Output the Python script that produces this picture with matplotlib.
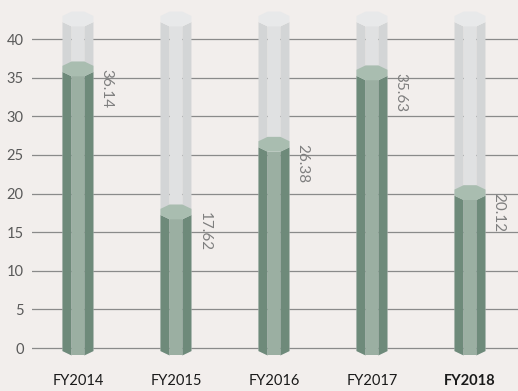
import numpy as np
import matplotlib.pyplot as plt
from matplotlib.patches import Polygon

years = ['FY2014', 'FY2015', 'FY2016', 'FY2017', 'FY2018']
values = [36.14, 17.62, 26.38, 35.63, 20.12]
full = 42.6  # height of the grey sleeve behind each column

bg = '#f2eeec'
grey_side, grey_mid, grey_cap = '#d3d5d6', '#e0e1e2', '#e8e9ea'
green_side, green_mid, green_cap = '#6e8a7a', '#9bafa2', '#a9bdb0'

w = 0.171   # radius of the octagon (x units)
h = 1.04    # radius of the octagon face (y units)
c1, s1 = np.cos(np.radians(22.5)), np.sin(np.radians(22.5))


def column(ax, x, top, side, mid, cap, z):
    # three visible faces, bottom follows the front of the base octagon
    faces = [
        ([(x - c1*w, top - s1*h), (x - s1*w, top - c1*h),
          (x - s1*w, -c1*h), (x - c1*w, -s1*h)], side),
        ([(x - s1*w, top - c1*h), (x + s1*w, top - c1*h),
          (x + s1*w, -c1*h), (x - s1*w, -c1*h)], mid),
        ([(x + s1*w, top - c1*h), (x + c1*w, top - s1*h),
          (x + c1*w, -s1*h), (x + s1*w, -c1*h)], side),
    ]
    for pts, col in faces:
        ax.add_patch(Polygon(pts, closed=True, fc=col, ec='none', zorder=z))
    ang = np.radians(22.5 + 45*np.arange(8))
    oct_pts = np.column_stack([x + w*np.cos(ang), top + h*np.sin(ang)])
    ax.add_patch(Polygon(oct_pts, closed=True, fc=cap, ec='none', zorder=z + 0.5))


fig = plt.figure(figsize=(5.18, 3.91), dpi=100, facecolor=bg)
ax = fig.add_axes([32/518, 0.06, 1 - 32/518, 0.94])
ax.set_facecolor(bg)

for i, v in enumerate(values):
    column(ax, i, full, grey_side, grey_mid, grey_cap, 3)
    column(ax, i, v, green_side, green_mid, green_cap, 4)
    ax.text(i + c1*w + 0.06, v, f'{v:.2f}', rotation=-90, ha='left', va='top',
            fontsize=11, color='#7f7f7f', family='Lato', zorder=6)

ax.set_xlim(-0.469, 4.49)
ax.set_ylim(-2.53, 45.06)
ax.set_yticks(range(0, 41, 5))
ax.set_xticks(range(len(years)))
ax.set_xticklabels(years)
ax.grid(axis='y', color='#8a8a8a', linewidth=0.9, zorder=1)
ax.set_axisbelow(True)
ax.tick_params(axis='y', length=0, pad=6, labelsize=10.5, labelcolor='#595959')
ax.tick_params(axis='x', length=0, pad=5, labelsize=10.5, labelcolor='#1a1a1a')
for lab in ax.get_xticklabels() + ax.get_yticklabels():
    lab.set_family('Lato')
ax.get_xticklabels()[-1].set_fontweight('bold')
for sp in ax.spines.values():
    sp.set_visible(False)

fig.savefig('out.png', dpi=100, facecolor=bg)
